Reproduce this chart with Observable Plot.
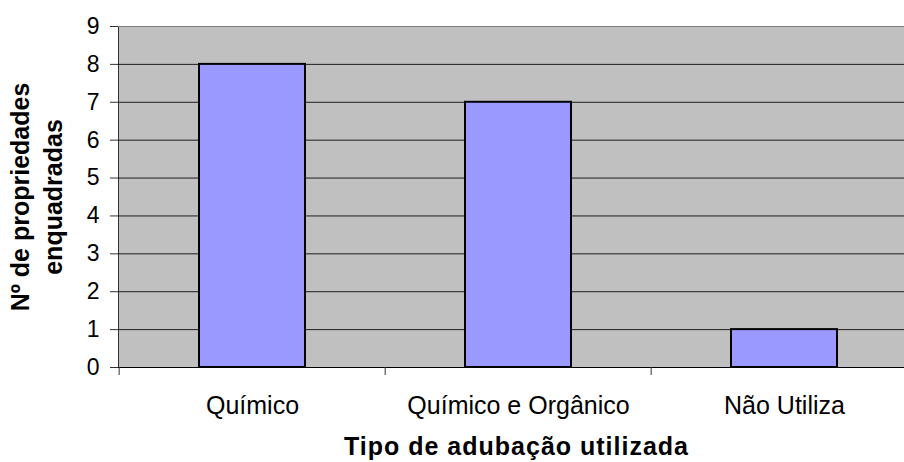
<!DOCTYPE html>
<html>
<head>
<meta charset="utf-8">
<script src="https://cdn.jsdelivr.net/npm/d3@7"></script>
<script src="https://cdn.jsdelivr.net/npm/@observablehq/plot@0.6"></script>
<style>
  html, body { margin: 0; padding: 0; background: #fff; }
</style>
</head>
<body>
<div id="chart"></div>
<script>
const categories = ["Químico", "Químico e Orgânico", "Não Utiliza"];
const values = [8, 7, 1];
const yTicks = [0, 1, 2, 3, 4, 5, 6, 7, 8, 9];
const xTitle = "Tipo de adubação utilizada";
const yTitle = "Nº de propriedades\nenquadradas";

const data = categories.map((c, i) => ({category: c, value: values[i]}));

const chart = Plot.plot({
  width: 904,
  height: 462,
  marginLeft: 118,
  marginTop: 26,
  marginBottom: 95,
  marginRight: 0,
  style: {fontFamily: "'Liberation Sans', Arial, sans-serif", background: "#fff", color: "#000", overflow: "hidden"},
  x: {domain: categories, range: [118, 918], padding: 0, axis: null},
  y: {domain: [0, 9], axis: null},
  marks: [
    Plot.frame({fill: "#c0c0c0", stroke: "#333", insetRight: -20}),
    Plot.ruleY(yTicks.filter(d => d > 0 && d < 9), {stroke: "#000", strokeOpacity: 0.85}),
    Plot.ruleY([9], {stroke: "#808080"}),
    Plot.barY(data, {x: "category", y: "value", fill: "#9999ff", stroke: "#000", strokeWidth: 2, insetLeft: 80, insetRight: 80}),
    Plot.ruleY([0], {stroke: "#000"}),
    Plot.axisY({ticks: yTicks, tickSize: 8, tickPadding: 11, fontSize: 23, label: null, stroke: "#333"}),
    Plot.axisX({tickSize: 8, dx: -133.33, text: null, label: null, stroke: "#333"}),
    Plot.axisX({tickSize: 0, tickPadding: 29, fontSize: 25, label: null}),
    Plot.text([xTitle], {frameAnchor: "bottom", dx: 5, dy: 79, fontSize: 25, fontWeight: "bold", textAnchor: "middle", lineAnchor: "middle"}),
    Plot.text([yTitle], {frameAnchor: "left", dx: -84, rotate: -90, fontSize: 25, fontWeight: "bold", lineHeight: 1.32, textAnchor: "middle", lineAnchor: "middle"})
  ]
});
d3.select(chart).selectAll("text")
  .filter(function() { return this.textContent === xTitle; })
  .style("letter-spacing", "1px");
document.getElementById("chart").appendChild(chart);
</script>
</body>
</html>
